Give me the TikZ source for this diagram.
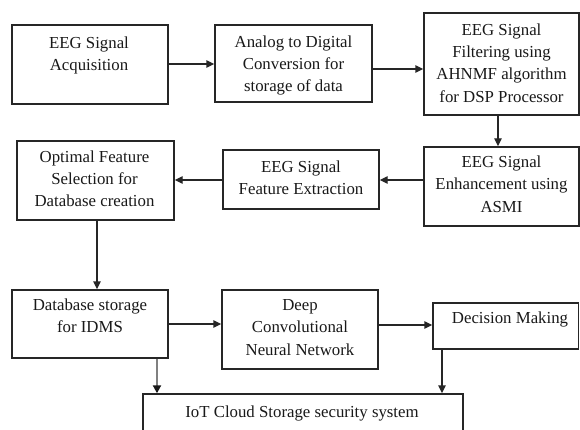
\documentclass[tikz,border=0pt]{standalone}
\usepackage{fontspec}
\setmainfont{Liberation Serif}
\usetikzlibrary{arrows.meta,calc}
\newcommand\firstline{\rule{0pt}{14pt}}
\begin{document}
\begin{tikzpicture}[x=1pt,y=-1pt,
  box/.style={draw=black!85, line width=1.4pt, rectangle, inner sep=0pt},
  lbl/.style={inner sep=0pt, align=center, anchor=north, text=black!90,
    font=\fontsize{16.8}{22.4}\selectfont},
  arr/.style={draw=black!85, line width=1.4pt, -{Triangle[length=8pt,width=7.5pt]}},
  grayarr/.style={draw=black!50, line width=2.6pt, -{Triangle[length=8pt,width=8pt,color=black!90]}}]
\useasboundingbox (0,0) rectangle (580,430);
\fill[white] (0,0) rectangle (580,430);

% blocks
\node[box, minimum width=156pt, minimum height=79pt]  (b1)  at (90,64.5)    {};
\node[box, minimum width=157pt, minimum height=77pt]  (b2)  at (293.5,63.5) {};
\node[box, minimum width=155pt, minimum height=102pt] (b3)  at (501.5,64)   {};
\node[box, minimum width=155pt, minimum height=79pt]  (b4)  at (501.5,186.5){};
\node[box, minimum width=156pt, minimum height=59pt]  (b5)  at (301,179.5)  {};
\node[box, minimum width=157pt, minimum height=79pt]  (b6)  at (95.5,180.5) {};
\node[box, minimum width=156pt, minimum height=68pt]  (b7)  at (90,324)     {};
\node[box, minimum width=156pt, minimum height=79pt]  (b8)  at (300,329.5)  {};
\node[box, minimum width=145.5pt, minimum height=46pt](b9)  at (505.75,326) {};
\node[box, minimum width=320pt, minimum height=70pt]  (b10) at (303,429)    {};

% block texts (first baseline 14pt below the node top)
\node[lbl] (t1)  at (89,34)    {\firstline EEG Signal\\Acquisition};
\node[lbl] (t2)  at (293.5,33) {\firstline Analog to Digital\\Conversion for\\storage of data};
\node[lbl] (t3)  at (501.5,21) {\firstline EEG Signal\\Filtering using\\AHNMF algorithm\\for DSP Processor};
\node[lbl] (t4)  at (501.5,153){\firstline EEG Signal\\Enhancement using\\ASMI};
\node[lbl] (t5)  at (301,158)  {\firstline EEG Signal\\Feature Extraction};
\node[lbl] (t6)  at (94.5,148) {\firstline Optimal Feature\\Selection for\\Database creation};
\node[lbl] (t7)  at (90,296)   {\firstline Database storage\\for IDMS};
\node[lbl] (t8)  at (300,296)  {\firstline Deep\\Convolutional\\Neural Network};
\node[lbl] (t9)  at (510,309)  {\firstline Decision Making};
\node[lbl] (t10) at (302,403)  {\firstline IoT Cloud Storage security system};

% connectors
\draw[arr] ([yshift=0.5pt]b1.east) -- ([yshift=0.5pt]b1.east -| b2.west);
\draw[arr] ([yshift=-5.5pt]b2.east) -- ([yshift=-5.5pt]b2.east -| b3.west);
\draw[arr] ([xshift=-3.5pt]b3.south) -- ([xshift=-3.5pt]b3.south |- b4.north);
\draw[arr] ([yshift=6.5pt]b4.west) -- ([yshift=6.5pt]b4.west -| b5.east);
\draw[arr] ([yshift=-0.5pt]b5.west) -- ([yshift=-0.5pt]b5.west -| b6.east);
\draw[arr] ([xshift=1.5pt]b6.south) -- ([xshift=1.5pt]b6.south |- b7.north);
\draw[arr] (b7.east) -- (b7.east -| b8.west);
\draw[arr] ([yshift=4.5pt]b8.east) -- ([yshift=4.5pt]b8.east -| b9.west);
\draw[grayarr] ([xshift=67pt]b7.south) -- ([xshift=67pt]b7.south |- b10.north);
\draw[arr] ([xshift=-63.75pt]b9.south) -- ([xshift=-63.75pt]b9.south |- b10.north);
\end{tikzpicture}
\end{document}
